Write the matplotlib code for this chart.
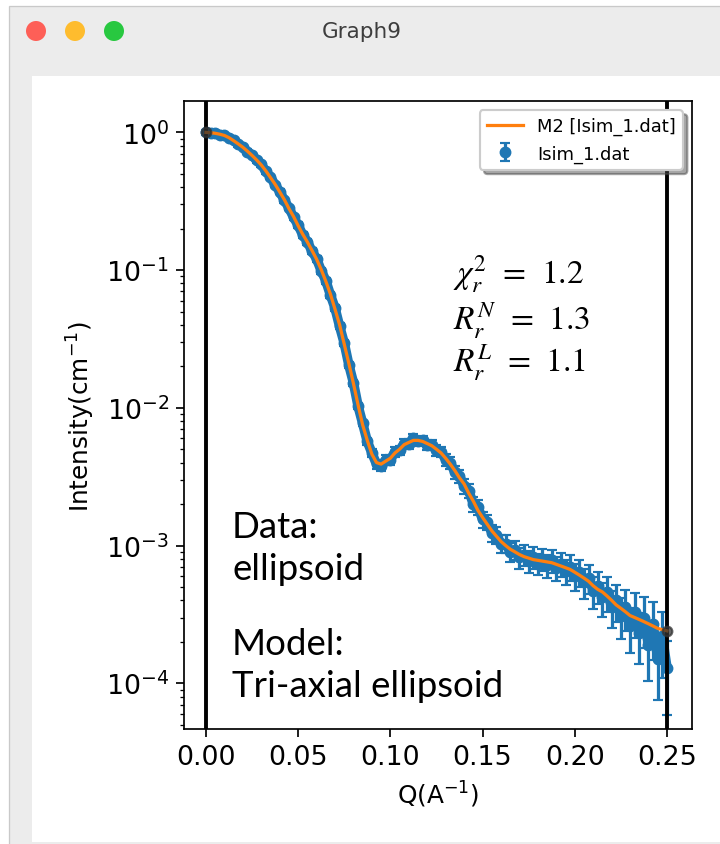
import numpy as np
import matplotlib
matplotlib.use('Agg')
import matplotlib.pyplot as plt
from matplotlib.patches import Rectangle, Ellipse

W, H, DPI = 720, 845, 155

# scattering vector (1/A)
q = [0.0000, 0.0025, 0.0050, 0.0075, 0.0100, 0.0125, 0.0150, 0.0175, 0.0200, 0.0225,
     0.0250, 0.0275, 0.0300, 0.0325, 0.0350, 0.0375, 0.0400, 0.0425, 0.0450, 0.0475,
     0.0500, 0.0525, 0.0550, 0.0575, 0.0600, 0.0625, 0.0650, 0.0675, 0.0700, 0.0725,
     0.0750, 0.0775, 0.0800, 0.0825, 0.0850, 0.0875, 0.0900, 0.0925, 0.0950, 0.0975,
     0.1000, 0.1025, 0.1050, 0.1075, 0.1100, 0.1125, 0.1150, 0.1175, 0.1200, 0.1225,
     0.1250, 0.1275, 0.1300, 0.1325, 0.1350, 0.1375, 0.1400, 0.1425, 0.1450, 0.1475,
     0.1500, 0.1525, 0.1550, 0.1575, 0.1600, 0.1625, 0.1650, 0.1675, 0.1700, 0.1725,
     0.1750, 0.1775, 0.1800, 0.1825, 0.1850, 0.1875, 0.1900, 0.1925, 0.1950, 0.1975,
     0.2000, 0.2025, 0.2050, 0.2075, 0.2100, 0.2125, 0.2150, 0.2175, 0.2200, 0.2225,
     0.2250, 0.2275, 0.2300, 0.2325, 0.2350, 0.2375, 0.2400, 0.2425, 0.2450, 0.2475,
     0.2500]

# model M2 (tri-axial ellipsoid) intensity
fit_I = [1.00, 0.995, 0.985, 0.97, 0.95, 0.915, 0.87, 0.825, 0.78, 0.73,
         0.68, 0.63, 0.58, 0.525, 0.47, 0.42, 0.37, 0.325, 0.28, 0.245,
         0.21, 0.182, 0.16, 0.139, 0.12, 0.101, 0.083, 0.067, 0.052, 0.040,
         0.029, 0.021, 0.015, 0.0105, 0.0075, 0.0058, 0.0046, 0.0040, 0.0039, 0.0041,
         0.0043, 0.0047, 0.0050, 0.0054, 0.0056, 0.0058, 0.0058, 0.0057, 0.0055, 0.0053,
         0.0050, 0.0047, 0.0043, 0.0039, 0.0035, 0.0031, 0.0028, 0.0024, 0.0021, 0.0018,
         0.0016, 0.00143, 0.00128, 0.00117, 0.00107, 0.00100, 0.00094, 0.00090, 0.00086, 0.00083,
         0.00081, 0.00079, 0.00078, 0.00077, 0.00076, 0.00075, 0.00073, 0.00071, 0.00069, 0.00067,
         0.00064, 0.00061, 0.00058, 0.00055, 0.00051, 0.00048, 0.00046, 0.00043, 0.00040, 0.00037,
         0.00035, 0.00033, 0.00031, 0.00030, 0.00029, 0.00028, 0.00027, 0.00026, 0.00025, 0.000245,
         0.00024]

# simulated data Isim_1.dat
data_I = [1.00, 0.99, 0.99, 0.96, 0.955, 0.91, 0.875, 0.82, 0.785, 0.725,
          0.685, 0.625, 0.585, 0.52, 0.475, 0.415, 0.372, 0.322, 0.283, 0.242,
          0.212, 0.180, 0.161, 0.137, 0.121, 0.099, 0.084, 0.066, 0.053, 0.039,
          0.0295, 0.0205, 0.0152, 0.0103, 0.0077, 0.0057, 0.0047, 0.0039, 0.0038, 0.0042,
          0.0042, 0.0048, 0.0049, 0.0055, 0.0055, 0.0060, 0.0057, 0.0058, 0.0054, 0.0054,
          0.0049, 0.0048, 0.0042, 0.0040, 0.0034, 0.0032, 0.0027, 0.0025, 0.0020, 0.0019,
          0.00155, 0.00148, 0.00124, 0.00120, 0.00103, 0.00103, 0.00090, 0.00093, 0.00082, 0.00086,
          0.00077, 0.00082, 0.00074, 0.00080, 0.00072, 0.00078, 0.00069, 0.00074, 0.00065, 0.00070,
          0.00060, 0.00064, 0.00054, 0.00058, 0.00047, 0.00051, 0.00042, 0.00046, 0.00036, 0.00040,
          0.00031, 0.00036, 0.00026, 0.00033, 0.00023, 0.00030, 0.00019, 0.00027, 0.00015, 0.00022,
          0.00013]

# relative error of each data point
data_rel_err = [0.04, 0.04, 0.04, 0.04, 0.04, 0.04, 0.04, 0.04, 0.04, 0.04,
                0.04, 0.04, 0.04, 0.04, 0.04, 0.04, 0.04, 0.04, 0.04, 0.04,
                0.05, 0.05, 0.05, 0.05, 0.05, 0.05, 0.05, 0.05, 0.05, 0.05,
                0.05, 0.05, 0.05, 0.05, 0.05, 0.06, 0.07, 0.08, 0.08, 0.08,
                0.08, 0.08, 0.08, 0.08, 0.08, 0.08, 0.08, 0.08, 0.08, 0.08,
                0.09, 0.09, 0.10, 0.10, 0.11, 0.11, 0.12, 0.12, 0.12, 0.12,
                0.13, 0.13, 0.14, 0.14, 0.15, 0.15, 0.16, 0.16, 0.17, 0.17,
                0.18, 0.18, 0.18, 0.18, 0.19, 0.19, 0.20, 0.20, 0.21, 0.21,
                0.22, 0.22, 0.24, 0.24, 0.26, 0.26, 0.28, 0.28, 0.30, 0.30,
                0.33, 0.33, 0.36, 0.36, 0.40, 0.40, 0.45, 0.45, 0.50, 0.50,
                0.55]

fit_label = 'M2 [Isim_1.dat]'
data_label = 'Isim_1.dat'
stats_lines = [r'$\chi_r^2\;\,=\;\,1.2$', r'$R_r^N\;\,=\;\,1.3$', r'$R_r^L\;\,=\;\,1.1$']
note_lines = ['Data:', 'ellipsoid', 'Model:', 'Tri-axial ellipsoid']


def rect(x0, y0, x1, y1, **kw):
    # rectangle given in pixels, origin at the top left
    return Rectangle((x0 / W, 1 - y1 / H), (x1 - x0) / W, (y1 - y0) / H,
                     transform=fig.transFigure, **kw)


fig = plt.figure(figsize=(W / DPI, H / DPI), dpi=DPI, facecolor='white')

# window frame and title bar, kept behind the axes
fig.add_artist(rect(9, 7, W + 5, H + 5, facecolor='#ececec', edgecolor='#c9c9c9',
                    lw=0.6, zorder=-10))
fig.add_artist(rect(32, 77, W + 5, 843, facecolor='white', edgecolor='none', zorder=-9))
for cx, c in zip([36, 75, 114], ['#fe5f57', '#febc2e', '#28c840']):
    fig.add_artist(Ellipse((cx / W, 1 - 32 / H), 20 / W, 20 / H, transform=fig.transFigure,
                           facecolor=c, edgecolor='none', zorder=-8))
fig.text(362 / W, 1 - 32 / H, 'Graph9', ha='center', va='center', fontsize=10,
         color='#3d3d3d')

ax = fig.add_axes([184 / W, 1 - 730 / H, (692 - 184) / W, (730 - 102) / H])

q_arr = np.array(q)
d_arr = np.array(data_I)
err = d_arr * np.array(data_rel_err)

ax.plot(q_arr, fit_I, color='#ff7f0e', lw=1.5, zorder=4, label=fit_label)
ax.plot(q_arr, d_arr, color='#1f77b4', lw=4.5, zorder=2, solid_capstyle='round')
ax.errorbar(q_arr, d_arr, yerr=err, fmt='o', ms=4.5, color='#1f77b4', elinewidth=1.5,
            capsize=2.2, zorder=2, label=data_label)
ax.axvline(q[0], color='black', lw=1.8, zorder=3)
ax.axvline(q[-1], color='black', lw=1.8, zorder=3)
ax.plot([q[0], q[-1]], [fit_I[0], fit_I[-1]], 'o', ms=4.5, color='#333333', alpha=0.75,
        zorder=5)

ax.set_yscale('log')
ax.set_xlim(-0.0119, 0.2636)
ax.set_ylim(4.65e-5, 1.69)
ax.set_xticks([0.0, 0.05, 0.10, 0.15, 0.20, 0.25])
ax.tick_params(labelsize=12.5)
ax.set_xlabel(r'Q(A$^{-1}$)', fontsize=11.5)
ax.set_ylabel(r'Intensity(cm$^{-1}$)', fontsize=11.5)
ax.legend(loc='upper right', fontsize='small', shadow=True)

for line, yb in zip(stats_lines, [283, 330, 372]):
    ax.text((453 - 184) / 508, (730 - yb) / 628, line, transform=ax.transAxes,
            fontsize=15.5, va='baseline', ha='left', math_fontfamily='stix')

for line, yb in zip(note_lines, [538, 580, 655, 697]):
    ax.text((232 - 184) / 508, (730 - yb) / 628, line, transform=ax.transAxes,
            fontsize=17, va='baseline', ha='left', family=['Lato', 'DejaVu Sans'])

fig.savefig('out.png', dpi=DPI)
